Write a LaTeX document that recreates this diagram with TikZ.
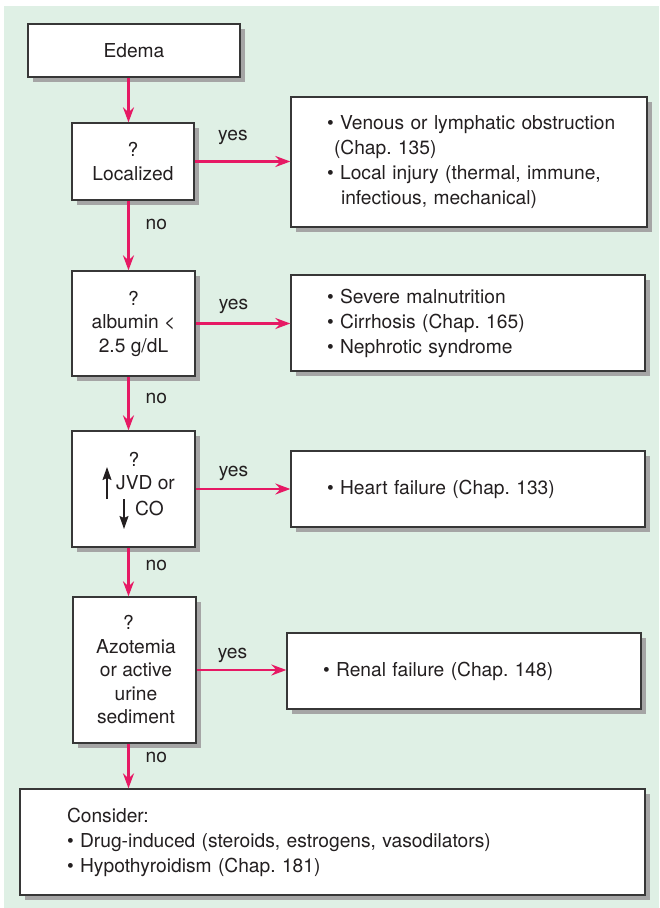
\documentclass[tikz,border=0pt]{standalone}
\usepackage{fontspec}
\setmainfont{TeX Gyre Heros}
\usetikzlibrary{arrows.meta,shadows}
\definecolor{bggreen}{RGB}{223,240,229}
\definecolor{arrpink}{RGB}{230,25,100}
\definecolor{boxline}{RGB}{55,55,55}
\definecolor{shadowgray}{RGB}{165,165,165}
\definecolor{txt}{RGB}{35,31,32}
\frenchspacing
\begin{document}
\begin{tikzpicture}[x=1pt,y=-1pt,
  box/.style={draw=boxline, line width=1.3pt, fill=white,
    drop shadow={shadow xshift=4.5pt, shadow yshift=-4.5pt, fill=shadowgray, opacity=1},
    font=\fontsize{19.2}{23.5}\selectfont\frenchspacing, text=txt},
  dbox/.style={box, align=center, inner sep=0pt},
  rbox/.style={box, align=left, inner ysep=0pt, font=\fontsize{19.2}{25}\selectfont\frenchspacing},
  arr/.style={draw=arrpink, line width=2.2pt, -{Stealth[length=15pt,width=11pt,inset=5pt]}},
  smallarr/.style={draw=txt, line width=1.5pt, -{Stealth[length=13pt,width=9pt,inset=2pt]}},
  lab/.style={font=\fontsize{19.2}{23.5}\selectfont, text=txt, inner sep=0pt}
]
\fill[bggreen] (4,6) rectangle (659,908);
\useasboundingbox (0,0) rectangle (659,908);

% left column
\node[box, minimum width=212pt, minimum height=53pt] (edema) at (134,50.5) {Edema};
\node[dbox, minimum width=122pt, minimum height=77pt] (loc) at (133,161.5) {?\\Localized};
\node[dbox, minimum width=123pt, minimum height=105pt] (alb) at (133.5,323.5) {?\\albumin <\\2.5 g/dL};
\node[dbox, minimum width=123pt, minimum height=116pt] (jvd) at (133.5,489) {};
\node[lab] (jq) at (134,459) {?};
\node[lab, anchor=west] (jt1) at (116,483) {JVD or};
\node[lab, anchor=west] (jt2) at (135,508) {CO};
\draw[smallarr] (107,499) -- (107,467);
\draw[smallarr] (124,499) -- (124,529);
\node[dbox, minimum width=123pt, minimum height=146pt] (azo) at (134.5,670) {\hspace*{-12pt}?\\\hspace*{3pt}Azotemia\\\hspace*{3pt}or active\\\hspace*{3pt}urine\\\hspace*{3pt}sediment};

% right column
\node[rbox, text width=284pt, inner xsep=36pt, minimum height=130pt] (b1) at (469,162)
  {\mbox{• Venous or lymphatic obstruction}\\\hspace*{7pt}(Chap. 135)\\\mbox{• Local injury (thermal, immune,}\\\hspace*{14pt}infectious, mechanical)};
\node[rbox, text width=282pt, inner xsep=36pt, minimum height=96pt] (b2) at (468,323)
  {• Severe malnutrition\\• Cirrhosis (Chap. 165)\\• Nephrotic syndrome};
\node[rbox, text width=282pt, inner xsep=36pt, minimum height=76pt] (b3) at (468,489)
  {• Heart failure (Chap. 133)};
\node[rbox, text width=282pt, inner xsep=36pt, minimum height=76pt] (b4) at (464,671)
  {• Renal failure (Chap. 148)};
\node[rbox, text width=531pt, inner xsep=47pt, minimum height=106pt] (cons) at (332.5,842)
  {Consider:\\• Drug-induced (steroids, estrogens, vasodilators)\\• Hypothyroidism (Chap. 181)};

% connectors
\coordinate (ax) at (128.5,0);
\draw[arr] (edema.south -| ax) -- (loc.north -| ax);
\draw[arr] (loc.south -| ax) -- node[lab, pos=0.34, anchor=west, xshift=16pt] {no} (alb.north -| ax);
\draw[arr] (alb.south -| ax) -- node[lab, pos=0.4, anchor=west, xshift=16pt] {no} (jvd.north -| ax);
\draw[arr] (jvd.south -| ax) -- node[lab, pos=0.36, anchor=west, xshift=16pt] {no} (azo.north -| ax);
\draw[arr] (azo.south -| ax) -- node[lab, pos=0.3, anchor=west, xshift=16pt] {no} (cons.north -| ax);

\draw[arr] (loc.east) -- node[lab, pos=0.4, yshift=24pt] {yes} (loc.east -| b1.west);
\draw[arr] (alb.east) -- node[lab, pos=0.4, yshift=17pt] {yes} (alb.east -| b2.west);
\draw[arr] (jvd.east) -- node[lab, pos=0.4, yshift=16pt] {yes} (jvd.east -| b3.west);
\draw[arr] (azo.east) -- node[lab, pos=0.4, yshift=15pt] {yes} (azo.east -| b4.west);
\end{tikzpicture}
\end{document}
